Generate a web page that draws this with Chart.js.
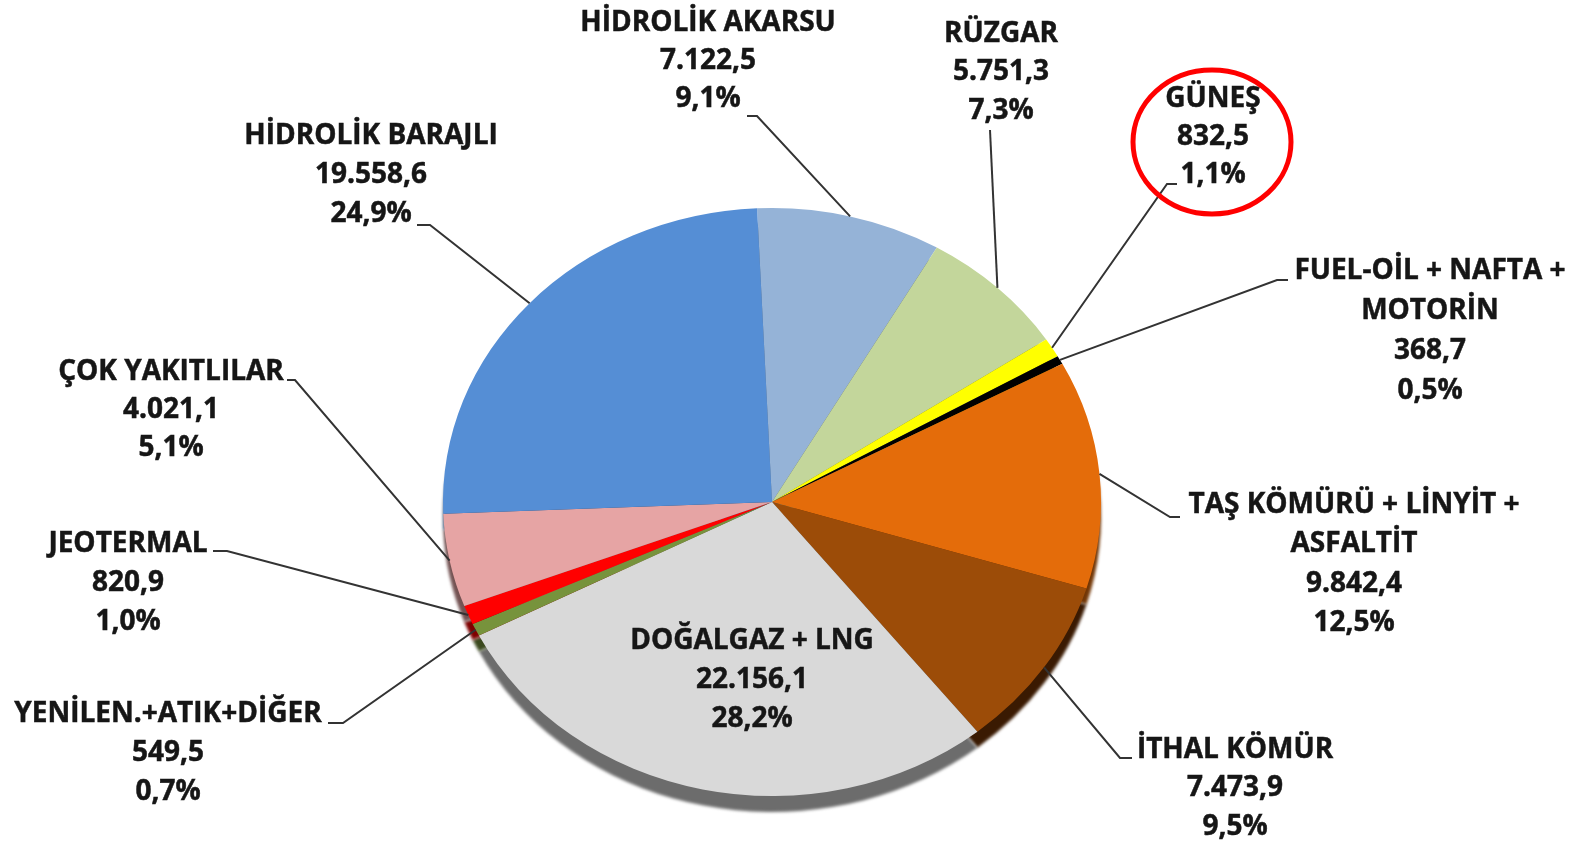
<!DOCTYPE html>
<html>
<head>
<meta charset="utf-8">
<script src="https://cdn.jsdelivr.net/npm/chart.js@4.4.1/dist/chart.umd.min.js"></script>
<style>
html,body{margin:0;padding:0;background:#fff;}
#wrap{width:1582px;height:847px;position:relative;}
</style>
</head>
<body>
<div id="wrap"><canvas id="c"></canvas></div>
<script>
// ---- data ----
const categories = ['HİDROLİK AKARSU','RÜZGAR','GÜNEŞ','FUEL-OİL + NAFTA + MOTORİN','TAŞ KÖMÜRÜ + LİNYİT + ASFALTİT','İTHAL KÖMÜR','DOĞALGAZ + LNG','YENİLEN.+ATIK+DİĞER','JEOTERMAL','ÇOK YAKITLILAR','HİDROLİK BARAJLI'];
const nameLines = [['HİDROLİK AKARSU'],['RÜZGAR'],['GÜNEŞ'],['FUEL-OİL + NAFTA +','MOTORİN'],['TAŞ KÖMÜRÜ + LİNYİT +','ASFALTİT'],['İTHAL KÖMÜR'],['DOĞALGAZ + LNG'],['YENİLEN.+ATIK+DİĞER'],['JEOTERMAL'],['ÇOK YAKITLILAR'],['HİDROLİK BARAJLI']];
const values = [7122.5, 5751.3, 832.5, 368.7, 9842.4, 7473.9, 22156.1, 549.5, 820.9, 4021.1, 19558.6];

// ---- styles ----
const sliceColors = ['#95B3D7','#C3D69B','#FFFF00','#000000','#E46C0A','#9C4C08','#D9D9D9','#77933C','#FF0000','#E6A4A4','#558ED5'];
const shadowColors = ['#4A596B','#616B4D','#7F7F00','#000000','#723605','#3A1A02','#6C6C6C','#3B491E','#7F0000','#735252','#2A476A'];

// ---- layout (label positions, screen px) ----
const labelLayout = [
  {cx:708,  y0:23,  step:38,  lead:[[747,116],[757,116]]},
  {cx:1001, y0:34,  step:38.5,lead:[[990,130]]},
  {cx:1213, y0:99,  step:38,  lead:[[1177,184],[1167,184]]},
  {cx:1430, y0:271, step:40,  lead:[[1288,280],[1277,280]]},
  {cx:1354, y0:505, step:39.3,lead:[[1180,517],[1170,517]]},
  {cx:1235, y0:750, step:38.5,lead:[[1132,758],[1120,758]]},
  {cx:752,  y0:641, step:39,  lead:null},
  {cx:168,  y0:714, step:39,  lead:[[328,723],[343,723]]},
  {cx:128,  y0:544, step:39,  lead:[[213,551],[227,551]]},
  {cx:171,  y0:372, step:38,  lead:[[287,380],[295,380]]},
  {cx:371,  y0:136, step:39,  lead:[[417,225],[430,225]]}
];

const total = values.reduce((a,b)=>a+b,0);
function fmtTR(v){
  const s = v.toFixed(1).split('.');
  return s[0].replace(/\B(?=(\d{3})+(?!\d))/g,'.') + ',' + s[1];
}
function pctTR(v){ return (v/total*100).toFixed(1).replace('.',',') + '%'; }

const K = 294/329;      // vertical squash of the tilted pie
const SHADOW = 16;      // depth of the bottom rim, px

const pie3d = {
  id:'pie3d',
  beforeDatasetsDraw(chart){
    const ctx = chart.ctx;
    const meta = chart.getDatasetMeta(0);
    const a0 = meta.data[0];
    const cx = a0.x, cy = a0.y;
    ctx.save();
    ctx.translate(cx, cy); ctx.scale(1, K); ctx.translate(-cx, -cy);
    ctx.save();
    ctx.translate(0, SHADOW / K);
    ctx.filter = 'blur(1.5px)';
    meta.data.forEach((arc, i) => {
      ctx.beginPath();
      ctx.moveTo(arc.x, arc.y);
      ctx.arc(arc.x, arc.y, arc.outerRadius, arc.startAngle, arc.endAngle);
      ctx.closePath();
      ctx.fillStyle = shadowColors[i];
      ctx.fill();
    });
    ctx.restore();
  },
  afterDatasetsDraw(chart){
    chart.ctx.restore();
  },
  afterDraw(chart){
    const ctx = chart.ctx;
    const meta = chart.getDatasetMeta(0);
    ctx.save();
    // leader lines
    ctx.strokeStyle = '#333333';
    ctx.lineWidth = 2;
    meta.data.forEach((arc, i) => {
      const L = labelLayout[i];
      if (!L.lead) return;
      const a = (arc.startAngle + arc.endAngle) / 2;
      const ex = arc.x + arc.outerRadius * Math.cos(a);
      const ey = arc.y + arc.outerRadius * Math.sin(a) * K;
      ctx.beginPath();
      ctx.moveTo(L.lead[0][0], L.lead[0][1]);
      for (let j = 1; j < L.lead.length; j++) ctx.lineTo(L.lead[j][0], L.lead[j][1]);
      ctx.lineTo(ex, ey);
      ctx.stroke();
    });
    // labels
    ctx.fillStyle = '#161616';
    ctx.strokeStyle = '#161616';
    ctx.lineWidth = 0.5;
    ctx.font = 'bold 28px "Open Sans"';
    ctx.textAlign = 'center';
    ctx.textBaseline = 'middle';
    categories.forEach((c, i) => {
      const L = labelLayout[i];
      const lines = nameLines[i].concat([fmtTR(values[i]), pctTR(values[i])]);
      lines.forEach((t, j) => {
        ctx.fillText(t, L.cx, L.y0 + j * L.step);
        ctx.strokeText(t, L.cx, L.y0 + j * L.step);
      });
    });
    // red highlight around GÜNEŞ
    ctx.strokeStyle = '#FF0000';
    ctx.lineWidth = 5;
    ctx.beginPath();
    ctx.ellipse(1212, 142, 79, 72, 0, 0, Math.PI * 2);
    ctx.stroke();
    ctx.restore();
  }
};

new Chart(document.getElementById('c'), {
  type:'pie',
  data:{
    labels: categories,
    datasets:[{
      data: values,
      backgroundColor: sliceColors,
      borderWidth: 0,
      hoverOffset: 0,
      offset: 0,
      clip: false
    }]
  },
  options:{
    responsive:true,
    maintainAspectRatio:false,
    animation:false,
    rotation:-2.6,
    events:[],
    layout:{padding:{left:443, right:481, top:173, bottom:16}},
    plugins:{legend:{display:false}, tooltip:{enabled:false}}
  },
  plugins:[pie3d]
});
</script>
</body>
</html>
